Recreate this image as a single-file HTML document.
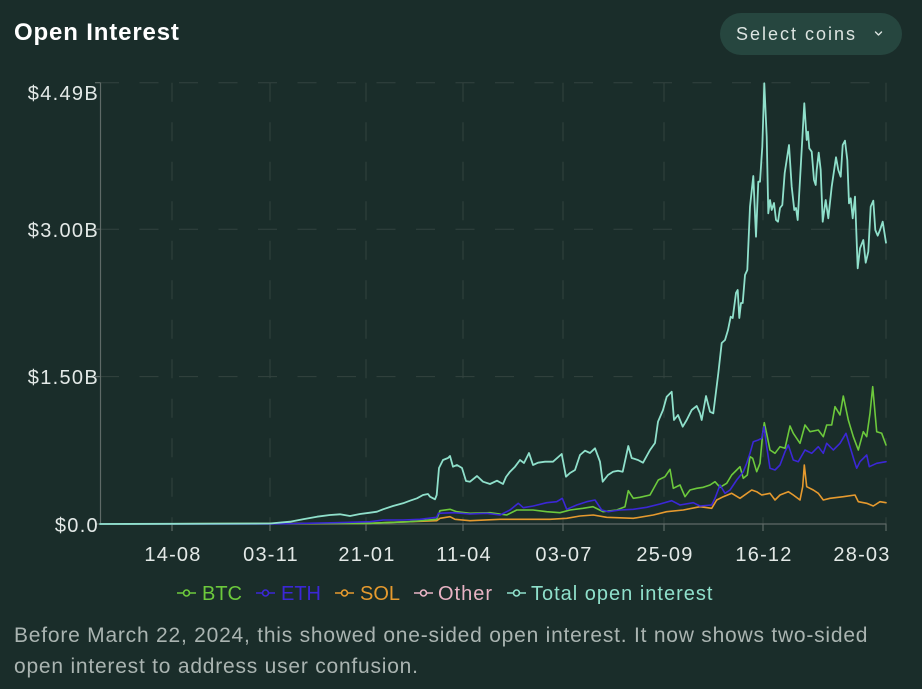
<!DOCTYPE html>
<html>
<head>
<meta charset="utf-8">
<style>
  html, body { margin:0; padding:0; background:#1a2d2a; }
  body { width:922px; height:689px; overflow:hidden; }
  svg { display:block; }
  text { font-family: "Liberation Sans", "DejaVu Sans", sans-serif; }
</style>
</head>
<body>
<svg width="922" height="689" viewBox="0 0 922 689" xmlns="http://www.w3.org/2000/svg">
  <rect x="0" y="0" width="922" height="689" fill="#1a2d2a"/>

  <!-- Title -->
  <text x="14" y="40" font-size="24" font-weight="bold" fill="#ffffff" letter-spacing="0.85">Open Interest</text>

  <!-- Select coins button -->
  <rect x="720" y="13" width="182" height="42" rx="21" ry="21" fill="#26463f"/>
  <text x="736" y="40" font-size="18" fill="#dce4e1" letter-spacing="2">Select coins</text>
  <polyline points="875.5,32 878.5,35 881.5,32" fill="none" stroke="#dce4e1" stroke-width="1.4" stroke-linecap="round" stroke-linejoin="round"/>

  <!-- Grid: horizontal -->
  <g stroke="#33433f" stroke-width="1" stroke-dasharray="19 20.5" fill="none">
    <line x1="100" y1="82.7" x2="886" y2="82.7"/>
    <line x1="100" y1="229.2" x2="886" y2="229.2"/>
    <line x1="100" y1="376.6" x2="886" y2="376.6"/>
  </g>
  <!-- Grid: vertical -->
  <g stroke="#33433f" stroke-width="1" stroke-dasharray="19 20.5" fill="none">
    <line x1="172" y1="82.7" x2="172" y2="524"/>
    <line x1="270" y1="82.7" x2="270" y2="524"/>
    <line x1="366" y1="82.7" x2="366" y2="524"/>
    <line x1="463" y1="82.7" x2="463" y2="524"/>
    <line x1="563" y1="82.7" x2="563" y2="524"/>
    <line x1="664" y1="82.7" x2="664" y2="524"/>
    <line x1="763" y1="82.7" x2="763" y2="524"/>
    <line x1="886" y1="82.7" x2="886" y2="524"/>
  </g>

  <!-- Axes -->
  <g stroke="#5f6a67" stroke-width="1.2" fill="none">
    <line x1="100.5" y1="82.7" x2="100.5" y2="524"/>
    <line x1="100" y1="524" x2="886.5" y2="524"/>
    <line x1="95" y1="82.7" x2="100.5" y2="82.7"/>
    <line x1="95" y1="229.2" x2="100.5" y2="229.2"/>
    <line x1="95" y1="376.6" x2="100.5" y2="376.6"/>
    <line x1="95" y1="524" x2="100.5" y2="524"/>
    <line x1="172" y1="524" x2="172" y2="531"/>
    <line x1="270" y1="524" x2="270" y2="531"/>
    <line x1="366" y1="524" x2="366" y2="531"/>
    <line x1="463" y1="524" x2="463" y2="531"/>
    <line x1="563" y1="524" x2="563" y2="531"/>
    <line x1="664" y1="524" x2="664" y2="531"/>
    <line x1="763" y1="524" x2="763" y2="531"/>
    <line x1="886" y1="524" x2="886" y2="531"/>
  </g>

  <!-- Y labels -->
  <g font-size="20" fill="#e3e9e7" letter-spacing="1.3" text-anchor="end">
    <text x="99" y="100">$4.49B</text>
    <text x="99" y="237">$3.00B</text>
    <text x="99" y="384">$1.50B</text>
    <text x="99" y="532">$0.0</text>
  </g>

  <!-- X labels -->
  <g font-size="20" fill="#e3e9e7" letter-spacing="1.2" text-anchor="middle">
    <text x="173" y="561">14-08</text>
    <text x="271" y="561">03-11</text>
    <text x="367" y="561">21-01</text>
    <text x="464" y="561">11-04</text>
    <text x="564" y="561">03-07</text>
    <text x="665" y="561">25-09</text>
    <text x="764" y="561">16-12</text>
    <text x="862" y="561">28-03</text>
  </g>

  <!-- Series -->
  <g fill="none" stroke-linejoin="round" stroke-linecap="round">
    <!-- SOL -->
    <polyline stroke="#e69a2e" stroke-width="1.6" points="100,524 370,523.3 410,521.7 436.7,520.7 440,518.3 450,516.7 455,519.3 470,520.7 500,519.3 550,519.3 566.7,518.3 580,516 593.3,515 606.7,517.3 633.3,518.3 653.3,515 666.7,511.7 683.3,510 700,506.7 711.7,508.3 716.7,500 723.3,496.7 731.7,493.3 740,498.3 751.7,490 756.7,491.7 761.7,495 770,493.3 775,500 780,495 788.3,491.7 793.3,495 800,500 802.7,486.7 804.3,465 806.7,486.7 813.3,490 818.3,493.3 823.3,500 830,498.3 843.3,496.7 855,495 858.3,501.7 866.7,503.3 873.3,506 880,501.7 886,502.7"/>
    <!-- BTC -->
    <polyline stroke="#6cc93c" stroke-width="1.6" points="100,524 370,523.3 410,521.7 436.7,519.3 440,510.7 450,509.3 456.7,511.7 470,513.3 490,512.7 506.7,515 516.7,510 533,510 546.7,511.7 560,512.7 570,510 583,508.3 593,506.7 603,511.7 616.7,510 625,506.7 628.3,490.7 633.3,498.3 640,497.3 650,495 658.3,480 665,476.7 670,469.3 673.3,488.3 680,485 685,496.7 690,490 696.7,488.3 703.3,487.3 710,485 715,481.7 720,487.3 726.7,483.3 731.7,475 736.7,470 740,466.7 743.3,478.3 747.3,475 750,456.7 752.7,458.3 756.7,471.7 760,463.3 762.7,433.3 764.3,422.7 767.3,436.7 770,450 775,453.3 780,446.7 785,448.3 790,426 793.3,433.3 800,443.3 805,425 810,431.7 818.3,430 823.3,436.7 826.7,425 831.7,425 835,406.7 840,415 843.3,396 848.3,420 853.3,436.7 858.3,450 863.3,431.7 866.7,436.7 870,413.3 872.7,386.7 876.7,431.7 881.7,433.3 886,445"/>
    <!-- ETH -->
    <polyline stroke="#3b27d6" stroke-width="1.6" points="100,524 270,524 336.7,522.7 370,521.7 383,520 403,520 420,519.3 436.7,517.3 438.3,513.3 453.3,512.7 470,514 486.7,513.3 500,515 510,510 518.3,503.3 523.3,507.7 533.3,506 546.7,502.7 556.7,501.7 562.3,498.3 566.7,509.3 576.7,505 586.7,501.7 595,500 601.7,510 608.3,511.7 620,510 633.3,509.3 646.7,507.3 660,504 671.7,500.7 680,505 693.3,502.7 700,506 711.7,505 715,498.3 720,485 725,493.3 730,490 736.7,480 743.3,471.7 746.7,463.3 750,453.3 753.3,441.7 758.3,440 761.7,438.3 764,426.7 766.7,446.7 770,468.3 775,470 780,465 785,451.7 788.3,445 793.3,460 798.3,461.7 805,450 811.7,453.3 818.3,446.7 823.3,453.3 826.7,443.3 833.3,450 840,443.3 846,433.3 850,446.7 854,460 856.7,468.3 860,461.7 866.7,455 869.3,466.7 876.7,463.3 886,461.7"/>
    <!-- Total -->
    <polyline stroke="#8fe0cb" stroke-width="1.8" points="100,524 270,523.5 290,521.7 303,519.3 317,516.7 330,515 340,514.3 350,516 360,514 370,512.7 377,511.7 383,509.3 393,506 403,503.3 410,500.7 417,498.3 423,495 428,494 430,496.7 435,499.3 436.7,495 439,468 443,460 448,458 450,456 453,466.7 457,465 462,468 466,481 470,481.7 477,476 483,481.7 490,484 497,480.7 503,484 506,477 510,471.7 515,466.7 520,460 524,463 529,453 533,465 538,462.7 545,461.7 553,461.7 561.7,454 566,476.7 570,473 575,470 580,455 585,450.7 590,453 595,448.3 600,461.7 602.7,481.7 608,475 613,471.7 618,470.7 622.7,471.7 628.3,446 631.7,458 638,460 643,462.7 650,450 655,443 658,421.7 663,410 666.7,396.7 671.7,391.7 674,420 678,415 682.7,426.7 686.7,420 691.7,410 696.7,406 700,413.3 701.7,420 706,396 710,411.7 713.3,413.3 718.3,373.3 721.7,343 725,340 728,330 730.7,316.7 732.7,318 736,293 737.7,290 739.3,318 741,303 742.7,303 745,275 747.3,270 750,206.7 753.3,176 756,236.7 758.3,181.7 760,181.7 762.3,146.7 764.3,83.3 766.7,136.7 768.3,213.3 770,200 771.7,210 774,203 776,220 778,221.7 780,208 782.3,205 784.7,173 789,145 791.7,186.7 794.3,210 796,208 797.7,220 800,180 804.3,103.3 806.7,140 808,131.7 809.3,148.3 811.7,151.7 814,180 815.7,185 816.7,170 818.7,152.7 820.7,170 822.7,221.7 825.7,200 828.3,218.3 831.7,186.7 836,157.3 838.3,170 840.7,176.7 842.7,145 845,140.7 847.3,160 849,203.3 850.7,198.3 852.7,218.3 855,196.7 857.7,268.3 860,248.3 863.3,240 865.7,262.7 868.3,251.7 870.7,206.7 873.3,200.7 875.3,230 877.7,235.7 880,230 882.7,221.7 886,242.7"/>
  </g>

  <!-- Legend -->
  <g stroke-width="1.6" fill="#1a2d2a">
    <line x1="177" y1="593" x2="196" y2="593" stroke="#6cc93c"/>
    <circle cx="186.5" cy="593" r="3" stroke="#6cc93c"/>
    <line x1="256" y1="593" x2="275" y2="593" stroke="#3b27d6"/>
    <circle cx="265.5" cy="593" r="3" stroke="#3b27d6"/>
    <line x1="335" y1="593" x2="354" y2="593" stroke="#e69a2e"/>
    <circle cx="344.5" cy="593" r="3" stroke="#e69a2e"/>
    <line x1="414" y1="593" x2="433" y2="593" stroke="#e8b3c4"/>
    <circle cx="423.5" cy="593" r="3" stroke="#e8b3c4"/>
    <line x1="507" y1="593" x2="526" y2="593" stroke="#8fe0cb"/>
    <circle cx="516.5" cy="593" r="3" stroke="#8fe0cb"/>
  </g>
  <g font-size="20">
    <text x="202" y="600" fill="#6cc93c">BTC</text>
    <text x="281" y="600" fill="#3b27d6">ETH</text>
    <text x="360" y="600" fill="#e69a2e">SOL</text>
    <text x="438" y="600" fill="#e8b3c4" letter-spacing="1">Other</text>
    <text x="531" y="600" fill="#8fe0cb" letter-spacing="1">Total open interest</text>
  </g>

  <!-- Footer -->
  <g font-size="21" fill="#aab4b1" letter-spacing="0.78">
    <text x="14" y="642">Before March 22, 2024, this showed one-sided open interest. It now shows two-sided</text>
    <text x="14" y="673">open interest to address user confusion.</text>
  </g>
</svg>
</body>
</html>
